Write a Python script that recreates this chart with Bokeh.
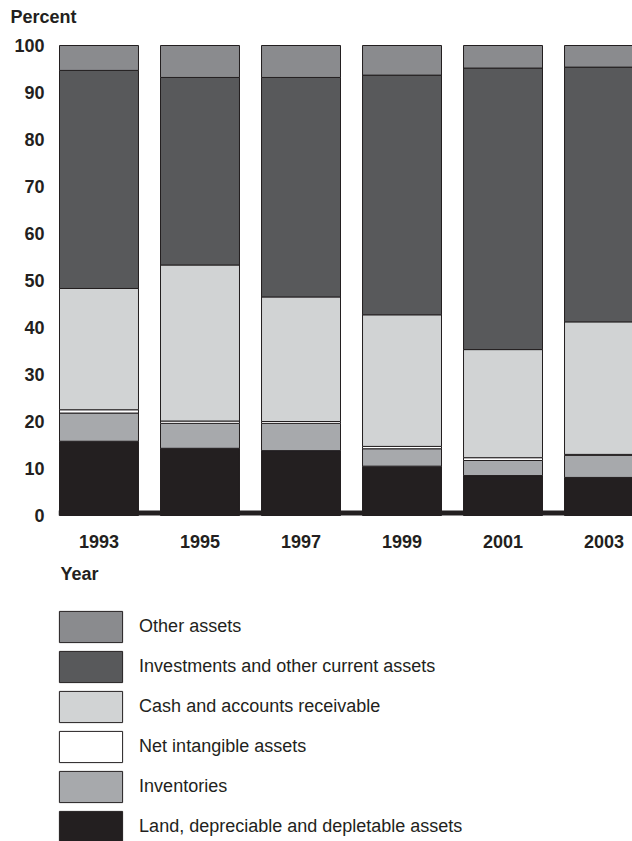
from bokeh.plotting import figure
from bokeh.models import (ColumnDataSource, FixedTicker, Legend, LegendItem,
                          Span, Label)
from bokeh.core.properties import value
from bokeh.embed import file_html
from bokeh.resources import INLINE

# ---- data (percent of total assets) ----
years = [1993, 1995, 1997, 1999, 2001, 2003]
year_labels = ["1993", "1995", "1997", "1999", "2001", "2003"]
land = [15.8, 14.3, 13.8, 10.5, 8.5, 8.1]
inventories = [6.0, 5.3, 5.8, 3.7, 3.2, 4.7]
intangible = [0.7, 0.5, 0.4, 0.5, 0.6, 0.2]
cash = [25.8, 33.2, 26.5, 28.0, 23.0, 28.2]
investments = [46.4, 39.9, 46.7, 51.0, 59.9, 54.2]
other = [5.3, 6.8, 6.8, 6.3, 4.8, 4.6]

series_keys = ["land", "inventories", "intangible", "cash", "investments", "other"]
series_names = ["Land, depreciable and depletable assets", "Inventories",
                "Net intangible assets", "Cash and accounts receivable",
                "Investments and other current assets", "Other assets"]
series_colors = ["#231f20", "#a7a9ac", "#ffffff", "#d1d3d4", "#58595b", "#8a8b8e"]
y_ticks = [0, 10, 20, 30, 40, 50, 60, 70, 80, 90, 100]

source = ColumnDataSource(dict(year=years, land=land, inventories=inventories,
                               intangible=intangible, cash=cash,
                               investments=investments, other=other))
label_source = ColumnDataSource(dict(year=years, base=[0] * len(years),
                                     label=year_labels))

INK = "#231f20"
FONT = "Liberation Sans"

# ---- layout geometry (pixels) ----
W, H = 632, 841
FRAME_TOP = 30          # top of plotting frame
ZERO_PX = 515           # pixel row of 0 %
HUNDRED_PX = 45         # pixel row of 100 %
PX = (ZERO_PX - HUNDRED_PX) / 100.0
y_start = -(H - ZERO_PX) / PX
y_end = 100 + (HUNDRED_PX - FRAME_TOP) / PX
X0, X1 = 1992.198, 2003.564

p = figure(width=W, height=H, output_backend="svg", toolbar_location=None,
           x_range=(X0, X1), y_range=(y_start, y_end), x_axis_location=None)
p.min_border_left = 58
p.min_border_right = 0
p.min_border_top = FRAME_TOP
p.min_border_bottom = 0
p.outline_line_color = None
p.background_fill_color = "white"
p.border_fill_color = "white"
p.xgrid.visible = False
p.ygrid.visible = False

renderers = p.vbar_stack(series_keys, x="year", width=1.564, source=source,
                         color=series_colors, line_color=INK, line_width=1)
for r in renderers:
    r.glyph.line_color = INK
    r.glyph.line_width = 1

# thick baseline (5 px, sitting on the 0 line)
p.add_layout(Span(location=2.5 / PX, dimension="width", line_color=INK, line_width=5))

# y axis
p.yaxis.ticker = FixedTicker(ticks=y_ticks)
p.yaxis.axis_line_color = None
p.yaxis.major_tick_line_color = None
p.yaxis.minor_tick_line_color = None
p.yaxis.major_tick_out = 0
p.yaxis.major_tick_in = 0
p.yaxis.major_label_standoff = 14
p.yaxis.major_label_text_font = FONT
p.yaxis.major_label_text_font_style = "bold"
p.yaxis.major_label_text_font_size = "18px"
p.yaxis.major_label_text_color = INK

# year labels under the bars
p.text(x="year", y="base", text="label", source=label_source, y_offset=26,
       text_align="center", text_baseline="middle", text_font=value(FONT),
       text_font_style="bold", text_font_size="18px", text_color=INK)

# titles
p.title.text = "Percent"
p.title.align = "left"
p.title.offset = -48
p.title.standoff = 7
p.title.text_font = FONT
p.title.text_font_style = "bold"
p.title.text_font_size = "18px"
p.title.text_color = INK

p.add_layout(Label(x=X0, y=0, x_offset=2, y_offset=-58, text="Year",
                   text_align="left", text_baseline="middle", text_font=FONT,
                   text_font_style="bold", text_font_size="18px", text_color=INK))

# legend
items = [LegendItem(label=n, renderers=[r])
         for n, r in zip(series_names, renderers)][::-1]
legend = Legend(items=items, location=(-6.9, -5), orientation="vertical",
                glyph_width=79, glyph_height=39, label_height=39,
                label_standoff=9, spacing=1, padding=0, margin=0,
                label_text_font=FONT, label_text_font_size="18px",
                label_text_color=INK, border_line_color=None,
                background_fill_alpha=0)
p.add_layout(legend, "center")

open("out.html", "w").write(file_html(p, INLINE))
